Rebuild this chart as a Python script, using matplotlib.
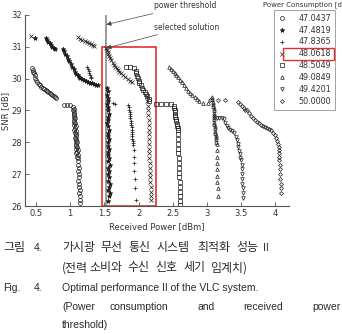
import matplotlib
matplotlib.use("Agg")
import matplotlib.pyplot as plt
from matplotlib.patches import Rectangle

# power consumption levels [dBm] (legend)
levels = ["47.0437", "47.4819", "47.8365", "48.0618", "48.5049", "49.0849", "49.4201", "50.0000"]
markers = ["o", "*", "+", "x", "s", "^", "v", "D"]

# 47.0437 dBm
x1 = [0.31, 0.44, 0.45, 0.46, 0.47, 0.48, 0.49, 0.50, 0.52, 0.54, 0.56, 0.58, 0.60, 0.62, 0.64,
      0.66, 0.68, 0.70, 0.72, 0.74, 0.76, 0.78, 0.80, 0.91, 0.96, 1.00,
      1.04, 1.05, 1.04, 1.06, 1.05, 1.06, 1.05, 1.07, 1.06, 1.05, 1.07, 1.06, 1.08, 1.07, 1.06,
      1.08, 1.07, 1.09, 1.08, 1.07, 1.09, 1.08, 1.10, 1.09, 1.08, 1.10, 1.09, 1.11, 1.10, 1.09,
      1.11, 1.10, 1.12,
      1.12, 1.12, 1.13, 1.12, 1.13, 1.13, 1.12, 1.13, 1.13, 1.14, 1.13, 1.14, 1.14, 1.14]
y1 = [30.36, 30.33, 30.28, 30.22, 30.17, 30.10, 30.03, 29.96, 29.90, 29.84, 29.79, 29.75, 29.71,
      29.68, 29.64, 29.61, 29.58, 29.55, 29.52, 29.49, 29.46, 29.43, 29.40, 29.17, 29.17, 29.17,
      29.10, 29.05, 29.00, 28.95, 28.90, 28.85, 28.80, 28.75, 28.70, 28.65, 28.60, 28.55, 28.50,
      28.45, 28.40, 28.35, 28.30, 28.25, 28.20, 28.15, 28.10, 28.05, 28.00, 27.95, 27.90, 27.85,
      27.80, 27.75, 27.70, 27.65, 27.60, 27.55, 27.50,
      27.40, 27.30, 27.20, 27.10, 27.00, 26.90, 26.80, 26.70, 26.60, 26.50, 26.40, 26.30, 26.20, 26.10]

# 47.4819 dBm
x2 = [0.49, 0.64, 0.66, 0.68, 0.70, 0.72, 0.74, 0.76, 0.78,
      0.89, 0.91, 0.93, 0.95, 0.97, 0.99, 1.01, 1.03, 1.05, 1.07, 1.09, 1.11, 1.13, 1.15, 1.17,
      1.20, 1.23, 1.26, 1.29, 1.32, 1.35, 1.38, 1.41,
      1.54, 1.55, 1.54, 1.56, 1.55, 1.54, 1.56, 1.55, 1.57, 1.55, 1.56, 1.54, 1.56, 1.57, 1.55,
      1.56, 1.57, 1.55, 1.56, 1.57, 1.56, 1.55, 1.57, 1.56, 1.58, 1.56, 1.57, 1.55, 1.57, 1.56,
      1.58, 1.57, 1.56, 1.58, 1.57, 1.56]
y2 = [31.28, 31.28, 31.22, 31.16, 31.11, 31.06, 31.01, 30.97, 30.93,
      30.93, 30.86, 30.78, 30.70, 30.62, 30.54, 30.46, 30.38, 30.30, 30.22, 30.15, 30.10, 30.06,
      30.02, 29.99, 29.96, 29.93, 29.90, 29.87, 29.85, 29.83, 29.81, 29.79,
      29.70, 29.60, 29.50, 29.40, 29.30, 29.20, 29.10, 29.00, 28.90, 28.80, 28.70, 28.60, 28.50,
      28.40, 28.30, 28.20, 28.10, 28.00, 27.90, 27.80, 27.70, 27.60, 27.50, 27.40, 27.30, 27.20,
      27.10, 27.00, 26.90, 26.80, 26.70, 26.60, 26.50, 26.40, 26.30, 26.15]

# 47.8365 dBm
x3 = [1.25, 1.26, 1.27, 1.28, 1.29, 1.30, 1.31, 1.63, 1.66,
      1.85, 1.86, 1.86, 1.87, 1.87, 1.88, 1.88, 1.89, 1.89, 1.89, 1.90, 1.90, 1.90, 1.91, 1.91,
      1.91, 1.92, 1.92, 1.92,
      1.93, 1.93, 1.94, 1.94, 1.95, 1.95, 1.96]
y3 = [30.36, 30.30, 30.24, 30.18, 30.12, 30.06, 30.02, 29.25, 29.20,
      29.17, 29.10, 29.03, 28.96, 28.89, 28.82, 28.75, 28.68, 28.61, 28.54, 28.47, 28.40, 28.33,
      28.26, 28.19, 28.12, 28.05, 27.98, 27.91,
      27.75, 27.55, 27.35, 27.10, 26.85, 26.55, 26.20]

# 48.0618 dBm (selected)
x4 = [0.43, 1.12, 1.15, 1.18, 1.21, 1.24, 1.27, 1.30, 1.33, 1.35,
      1.53, 1.54, 1.55, 1.56, 1.57, 1.58, 1.60, 1.62, 1.64, 1.66, 1.68, 1.70, 1.72, 1.74, 1.77,
      1.80, 1.84, 1.87, 1.90,
      2.13, 2.13, 2.14, 2.14, 2.14, 2.15, 2.15, 2.15, 2.15, 2.16, 2.16, 2.16, 2.16, 2.16, 2.17,
      2.17, 2.17, 2.17, 2.17, 2.18, 2.18, 2.18, 2.18]
y4 = [31.35, 31.31, 31.26, 31.22, 31.18, 31.14, 31.11, 31.08, 31.05, 31.02,
      30.96, 30.90, 30.84, 30.78, 30.72, 30.66, 30.58, 30.50, 30.44, 30.38, 30.33, 30.27, 30.22,
      30.17, 30.11, 30.06, 29.99, 29.94, 29.89,
      29.45, 29.30, 29.15, 29.00, 28.85, 28.70, 28.55, 28.40, 28.25, 28.10, 27.95, 27.80, 27.65,
      27.50, 27.35, 27.20, 27.05, 26.90, 26.75, 26.60, 26.45, 26.30, 26.20]

# 48.5049 dBm
x5 = [1.82, 1.88, 1.94, 1.96, 1.97, 1.98, 1.99, 2.00, 2.01, 2.03, 2.05, 2.07, 2.09, 2.11, 2.13,
      2.15, 2.16, 2.26, 2.33, 2.40, 2.47,
      2.52, 2.52, 2.53, 2.53, 2.54, 2.54, 2.55, 2.55, 2.56, 2.56, 2.57, 2.57,
      2.57, 2.58, 2.58, 2.58, 2.58, 2.59, 2.59, 2.59, 2.59, 2.59, 2.60, 2.60, 2.60, 2.60, 2.60, 2.60]
y5 = [30.36, 30.36, 30.33, 30.25, 30.17, 30.09, 30.01, 29.93, 29.86, 29.79, 29.72, 29.65, 29.58,
      29.51, 29.44, 29.37, 29.31, 29.20, 29.20, 29.20, 29.20,
      29.15, 29.08, 29.01, 28.94, 28.87, 28.80, 28.73, 28.66, 28.59, 28.52, 28.45, 28.38,
      28.25, 28.10, 27.95, 27.80, 27.65, 27.50, 27.35, 27.20, 27.05, 26.90, 26.75, 26.60, 26.45,
      26.30, 26.15, 26.02]

# 49.0849 dBm
x6 = [2.45, 2.48, 2.50, 2.53, 2.55, 2.58, 2.60, 2.63, 2.66, 2.69, 2.72, 2.75, 2.78, 2.82, 2.86,
      2.89, 2.94, 3.01,
      3.08, 3.08, 3.09, 3.09, 3.09, 3.10, 3.10, 3.10, 3.10, 3.11, 3.11, 3.11, 3.11, 3.12, 3.12,
      3.12, 3.12, 3.13, 3.13, 3.13, 3.13, 3.14,
      3.14, 3.14, 3.15, 3.15, 3.15, 3.15, 3.16, 3.16]
y6 = [30.36, 30.30, 30.24, 30.18, 30.11, 30.04, 29.96, 29.88, 29.79, 29.70, 29.62, 29.55, 29.48,
      29.42, 29.36, 29.30, 29.23, 29.23,
      29.42, 29.35, 29.28, 29.21, 29.14, 29.07, 29.00, 28.93, 28.86, 28.79, 28.72, 28.65, 28.58,
      28.51, 28.44, 28.37, 28.30, 28.23, 28.16, 28.09, 28.02, 27.95,
      27.75, 27.55, 27.35, 27.15, 26.95, 26.75, 26.55, 26.30]

# 49.4201 dBm
x7 = [3.14, 3.18, 3.22, 3.25, 3.27, 3.29, 3.31, 3.34, 3.37, 3.40, 3.42, 3.44, 3.45, 3.46, 3.47,
      3.48, 3.49, 3.50, 3.51, 3.51, 3.52, 3.52, 3.52, 3.53, 3.53, 3.53]
y7 = [28.76, 28.76, 28.76, 28.72, 28.62, 28.52, 28.45, 28.40, 28.36, 28.28, 28.18, 28.06, 27.95,
      27.84, 27.73, 27.62, 27.52, 27.44, 27.30, 27.15, 27.00, 26.85, 26.70, 26.55, 26.40, 26.25]

# 50.0000 dBm
x8 = [3.04, 3.16, 3.26, 3.45, 3.48, 3.51, 3.54, 3.56, 3.58, 3.61, 3.64, 3.67, 3.70, 3.73, 3.76,
      3.79, 3.82, 3.85, 3.88, 3.91, 3.94, 3.97, 3.99, 4.01, 4.03, 4.04, 4.05, 4.05, 4.06, 4.06,
      4.06, 4.07, 4.07, 4.07, 4.07, 4.08, 4.08, 4.08]
y8 = [29.33, 29.33, 29.33, 29.26, 29.20, 29.14, 29.08, 29.03, 29.00, 28.92, 28.84, 28.77, 28.70,
      28.65, 28.60, 28.56, 28.52, 28.48, 28.45, 28.42, 28.38, 28.30, 28.22, 28.13, 28.04, 27.95,
      27.85, 27.75, 27.65, 27.55, 27.45, 27.30, 27.15, 27.00, 26.85, 26.70, 26.55, 26.40]

xs = [x1, x2, x3, x4, x5, x6, x7, x8]
ys = [y1, y2, y3, y4, y5, y6, y7, y8]

threshold = 1.53
selected = (1.53, 30.96)

W, H = 342, 334
fig = plt.figure(figsize=(W / 100, H / 100), dpi=100)
ax = fig.add_axes([25 / W, 1 - 206 / H, (289 - 25) / W, (206 - 15) / H])

mk = '#1a1a1a'
sizes = {"o": 2.8, "*": 3.4, "+": 3.0, "x": 2.6, "s": 2.4, "^": 2.6, "v": 2.6, "D": 2.0}
handles = []
for x, y, m, lab in zip(xs, ys, markers, levels):
    filled = m in ("*",)
    ln, = ax.plot(x, y, linestyle='none', marker=m, ms=sizes[m], mew=0.5,
                  mec=mk, mfc=mk if filled else 'none', label=lab)
    handles.append(ln)

ax.axvline(threshold, color='#8a8a8a', lw=1.2, zorder=0)
ax.add_patch(Rectangle((1.46, 26.0), 0.80, 5.0, fill=False, ec='#e03030', lw=1.2, clip_on=False))

ax.set_xlim(0.34, 4.2)
ax.set_ylim(26, 32)
ax.set_xticks([0.5, 1, 1.5, 2, 2.5, 3, 3.5, 4])
ax.set_xticklabels(['0.5', '1', '1.5', '2', '2.5', '3', '3.5', '4'])
ax.set_yticks([26, 27, 28, 29, 30, 31, 32])
for s in ['top', 'right']:
    ax.spines[s].set_visible(False)
for s in ['left', 'bottom']:
    ax.spines[s].set_color('#555555')
    ax.spines[s].set_linewidth(0.8)
ax.tick_params(direction='in', length=3, width=0.6, colors='#555555', labelsize=6,
               labelcolor='#333333', pad=2)
ax.set_xlabel('Received Power [dBm]', fontsize=6, color='#333333', labelpad=3)
ax.set_ylabel('SNR [dB]', fontsize=6, color='#333333', labelpad=1)

# annotations
arrow = dict(arrowstyle='-|>', color='#444444', lw=0.5, mutation_scale=7, shrinkA=1, shrinkB=0)
ax.annotate('power threshold', xy=(threshold, 31.7), xytext=(154 / W, 1 - 6 / H),
            textcoords='figure fraction', fontsize=5.5, color='#333333', va='center',
            arrowprops=arrow)
ax.annotate('selected solution', xy=selected, xytext=(154 / W, 1 - 27 / H),
            textcoords='figure fraction', fontsize=5.5, color='#333333', va='center',
            arrowprops=arrow)

leg = ax.legend(handles=handles, loc='upper left', bbox_to_anchor=(274 / W, 1 - 10 / H),
                bbox_transform=fig.transFigure, fontsize=5.8, frameon=True, fancybox=False,
                edgecolor='#777777', handlelength=1.0, handletextpad=1.6, labelspacing=0.36,
                borderpad=0.45, borderaxespad=0)
leg.get_frame().set_linewidth(0.6)
for t in leg.get_texts():
    t.set_color('#333333')
fig.text(263 / W, 1 - 5 / H, 'Power Consumption [dBm]', fontsize=5.0, color='#333333', va='center')

# highlight the selected level in the legend
fig.canvas.draw()
inv = fig.transFigure.inverted()
tb = leg.get_texts()[3].get_window_extent()
lb = leg.get_window_extent()
(x0, y0), (x1b, y1b) = inv.transform([[lb.x0 + 9, tb.y0 - 1.5], [lb.x1 - 1, tb.y1 + 1.5]])
fig.patches.append(Rectangle((x0, y0), x1b - x0, y1b - y0, fill=False, ec='#e03030',
                             lw=1.0, transform=fig.transFigure, figure=fig))

# caption
kr = ['Noto Sans CJK KR', 'DejaVu Sans']
en = ['Liberation Sans', 'DejaVu Sans']
cc = '#2a2a2a'
fs = 8.6
line1 = [('그림', 3), ('4.', 34), ('가시광', 62), ('무선', 100), ('통신', 128), ('시스템', 157),
         ('최적화', 197), ('성능', 236), ('II', 263)]
line2 = [('(전력', 62), ('소비와', 89), ('수신', 127), ('신호', 155), ('세기', 183), ('임계치)', 210)]
for word, px in line1:
    fig.text(px / W, 1 - 248 / H, word, family=kr if word not in ('4.', 'II') else en,
             fontsize=fs if word not in ('4.', 'II') else 7.5, color=cc, va='center')
for word, px in line2:
    fig.text(px / W, 1 - 268 / H, word, family=kr, fontsize=fs, color=cc, va='center')
fig.text(3 / W, 1 - 288 / H, 'Fig.', family=en, fontsize=7.5, color=cc, va='center')
fig.text(34 / W, 1 - 288 / H, '4.', family=en, fontsize=7.5, color=cc, va='center')
fig.text(62 / W, 1 - 288 / H, 'Optimal performance II of the VLC system.', family=en, fontsize=7.5,
         color=cc, va='center')
for word, px in [('(Power', 62), ('consumption', 110), ('and', 197), ('received', 243), ('power', 312)]:
    fig.text(px / W, 1 - 307 / H, word, family=en, fontsize=7.5, color=cc, va='center')
fig.text(62 / W, 1 - 325 / H, 'threshold)', family=en, fontsize=7.5, color=cc, va='center')

fig.savefig('out.png', dpi=100)
